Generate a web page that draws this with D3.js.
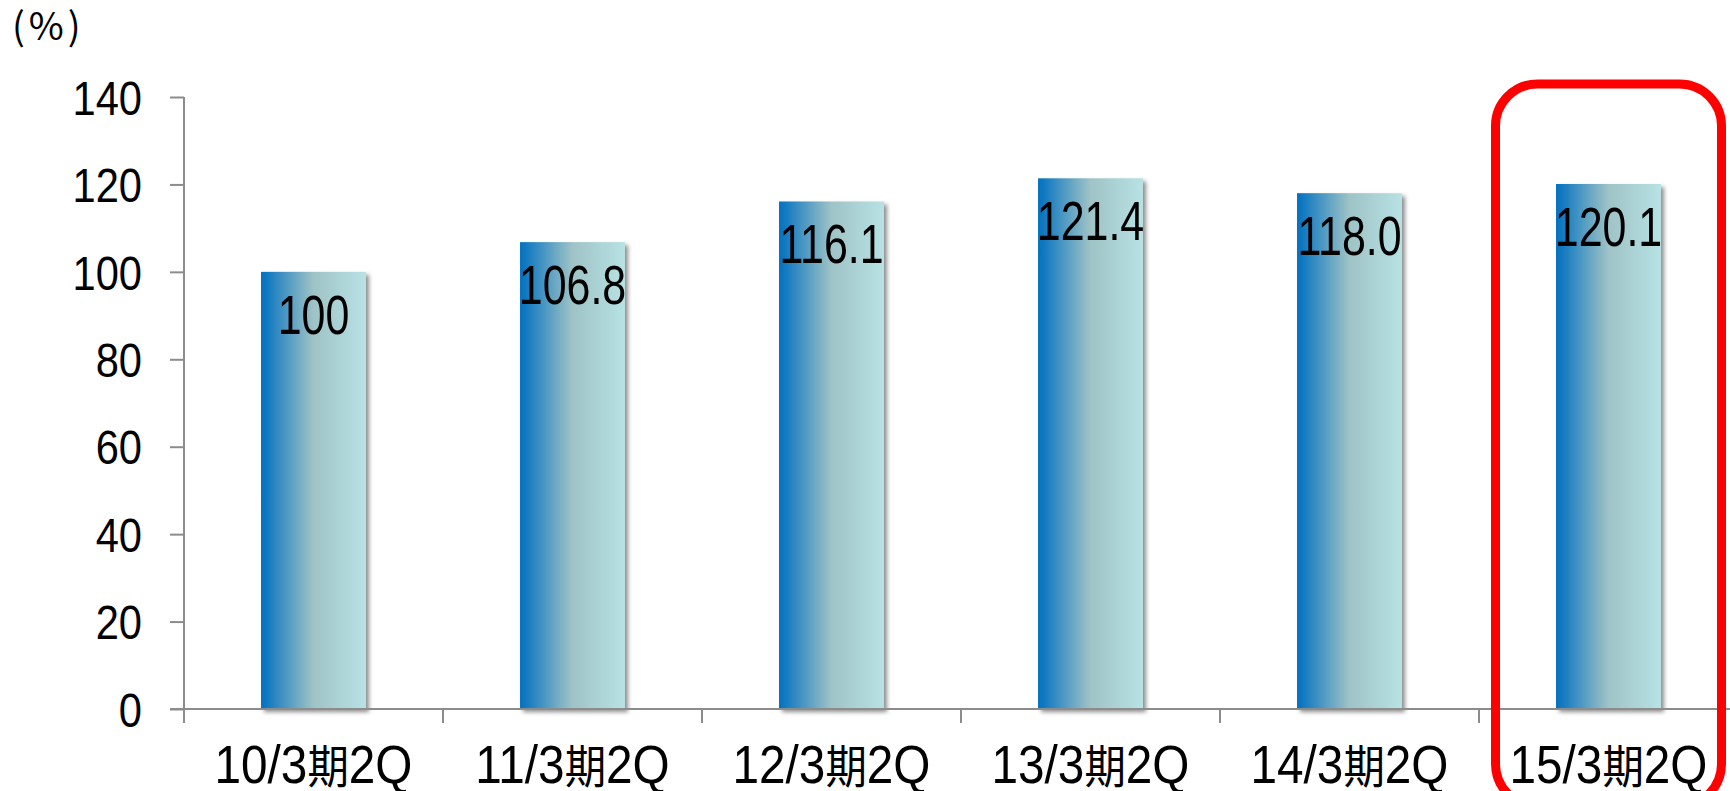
<!DOCTYPE html>
<html>
<head>
<meta charset="utf-8">
<script src="https://cdn.jsdelivr.net/npm/d3@7"></script>
<style>
  html, body { margin: 0; padding: 0; background: #fff; overflow: hidden; }
  svg { display: block; }
  .num { font-family: "Liberation Sans", Arial, sans-serif; }
</style>
</head>
<body>
<svg id="chart" width="1730" height="791"></svg>
<script>
const categories = ["10/3期2Q", "11/3期2Q", "12/3期2Q", "13/3期2Q", "14/3期2Q", "15/3期2Q"];
const values = [100, 106.8, 116.1, 121.4, 118.0, 120.1];
const valueLabels = ["100", "106.8", "116.1", "121.4", "118.0", "120.1"];
const yTicks = [0, 20, 40, 60, 80, 100, 120, 140];
const unitLabel = "(%)";
const highlighted = "15/3期2Q";

const svg = d3.select("#chart");
const W = 1730, H = 791;
const plot = { left: 184, right: 1738, top: 97, bottom: 709 };

const x = d3.scaleBand().domain(categories).range([plot.left, plot.right])
  .paddingInner(0.595).paddingOuter(0.2975);
const y = d3.scaleLinear().domain([0, 140]).range([plot.bottom, plot.top]);
const step = x.step();

const defs = svg.append("defs");
const grad = defs.append("linearGradient").attr("id", "barGrad")
  .attr("x1", "0%").attr("x2", "100%").attr("y1", "0%").attr("y2", "0%");
grad.append("stop").attr("offset", "0%").attr("stop-color", "#0070c0");
grad.append("stop").attr("offset", "50%").attr("stop-color", "#9fc3c6");
grad.append("stop").attr("offset", "100%").attr("stop-color", "#b8e2e4");
const f = defs.append("filter").attr("id", "shadow").attr("x", "-10%").attr("y", "-10%").attr("width", "130%").attr("height", "130%");
f.append("feDropShadow").attr("dx", 3).attr("dy", 3).attr("stdDeviation", 2)
  .attr("flood-color", "#000").attr("flood-opacity", 0.45);

// unit label
svg.append("text").attr("x", 12).attr("y", 40)
  .attr("font-family", "'Noto Sans CJK JP', sans-serif").attr("font-size", 38)
  .attr("letter-spacing", 4)
  .attr("fill", "#000").text(unitLabel);

// bars
svg.append("g").selectAll("rect").data(categories).join("rect")
  .attr("x", d => x(d))
  .attr("y", (d, i) => y(values[i]))
  .attr("width", x.bandwidth())
  .attr("height", (d, i) => y(0) - y(values[i]))
  .attr("fill", "url(#barGrad)")
  .attr("filter", "url(#shadow)");

// value labels (condensed)
svg.append("g").selectAll("text").data(categories).join("text")
  .attr("class", "num")
  .attr("transform", (d, i) => `translate(${x(d) + x.bandwidth() / 2},${y(values[i]) + 62}) scale(0.78,1)`)
  .attr("text-anchor", "middle")
  .attr("font-size", 55)
  .attr("fill", "#000")
  .text((d, i) => valueLabels[i]);

// y axis
const yAxis = d3.axisLeft(y).tickValues(yTicks).tickSize(14).tickFormat("");
const gy = svg.append("g").attr("transform", `translate(${plot.left},0)`).call(yAxis);
gy.select(".domain").remove();
gy.selectAll(".tick line").attr("stroke", "#8c8c8c").attr("stroke-width", 2);
gy.selectAll(".tick text").remove();
svg.append("g").selectAll("text").data(yTicks).join("text")
  .attr("class", "num")
  .attr("transform", d => `translate(142,${y(d)}) scale(0.85,1)`)
  .attr("dy", "0.36em")
  .attr("text-anchor", "end")
  .attr("font-size", 49)
  .attr("fill", "#000")
  .text(d => d);
svg.append("line").attr("x1", plot.left).attr("x2", plot.left)
  .attr("y1", y(140)).attr("y2", y(0)).attr("stroke", "#8c8c8c").attr("stroke-width", 2);

// x axis
svg.append("line").attr("x1", plot.left - 14).attr("x2", W)
  .attr("y1", y(0)).attr("y2", y(0)).attr("stroke", "#8c8c8c").attr("stroke-width", 2);
const boundaries = categories.map(c => x(c) - x.paddingInner() * step / 2);
svg.append("g").selectAll("line").data(boundaries).join("line")
  .attr("x1", d => d).attr("x2", d => d)
  .attr("y1", y(0)).attr("y2", y(0) + 14)
  .attr("stroke", "#8c8c8c").attr("stroke-width", 2);

const xl = svg.append("g").selectAll("text").data(categories).join("text")
  .attr("class", "num")
  .attr("transform", d => `translate(${x(d) + x.bandwidth() / 2},783) scale(0.9,1)`)
  .attr("text-anchor", "middle")
  .attr("font-size", 53)
  .attr("fill", "#000");
xl.each(function(d) {
  const parts = d.split("期");
  const t = d3.select(this);
  t.append("tspan").text(parts[0]);
  t.append("tspan").attr("font-family", "'Noto Sans CJK JP', sans-serif").attr("font-size", 46).text("期");
  t.append("tspan").text(parts[1]);
});

// highlight box
const hx = x(highlighted) + x.bandwidth() / 2;
svg.append("rect")
  .attr("x", hx - 113).attr("y", 84)
  .attr("width", 226).attr("height", 722)
  .attr("rx", 42).attr("ry", 42)
  .attr("fill", "none").attr("stroke", "#ff0000").attr("stroke-width", 9);
</script>
</body>
</html>
